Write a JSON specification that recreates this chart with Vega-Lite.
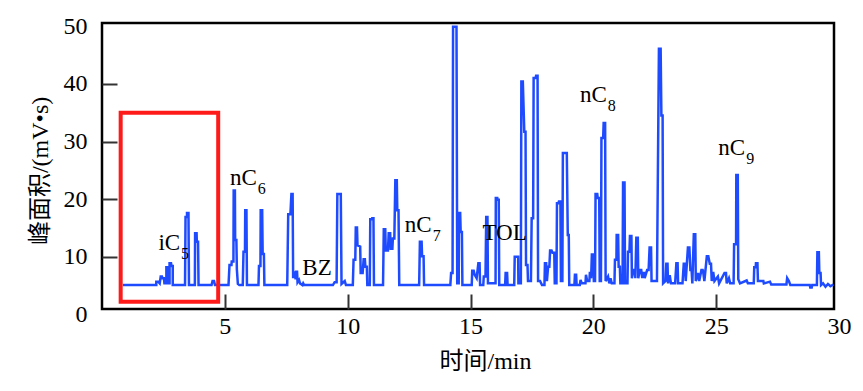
{
  "$schema": "https://vega.github.io/schema/vega-lite/v6.json",
  "autosize": {"type": "none"},
  "width": 732,
  "height": 286,
  "padding": {"left": 102, "top": 23, "right": 29, "bottom": 82},
  "background": "white",
  "config": {
    "view": {"stroke": "black", "strokeWidth": 2.5},
    "axis": {"grid": false, "domain": false}
  },
  "datasets": {
    "signal": [
      {"t":0.85,"v":5.1},{"t":2.21,"v":5.1},{"t":2.21,"v":5.7},{"t":2.29,"v":5.7},{"t":2.35,"v":5.4},{"t":2.39,"v":6.6},{"t":2.44,"v":6.6},{"t":2.46,"v":6.3},{"t":2.52,"v":6.3},{"t":2.54,"v":5.4},{"t":2.62,"v":5.4},{"t":2.62,"v":8.2},{"t":2.68,"v":8.2},{"t":2.68,"v":5.4},{"t":2.75,"v":5.4},{"t":2.75,"v":8.9},{"t":2.81,"v":8.9},{"t":2.83,"v":8.4},{"t":2.88,"v":8.4},{"t":2.88,"v":5.1},
      {"t":3.38,"v":5.1},{"t":3.40,"v":16.9},{"t":3.46,"v":16.9},{"t":3.46,"v":17.6},{"t":3.52,"v":17.6},{"t":3.54,"v":5.1},
      {"t":3.78,"v":5.1},{"t":3.79,"v":14.1},{"t":3.85,"v":14.1},{"t":3.86,"v":12.6},{"t":3.91,"v":12.6},{"t":3.93,"v":5.1},
      {"t":4.46,"v":5.1},{"t":4.50,"v":5.8},{"t":4.56,"v":5.8},{"t":4.60,"v":5.1},
      {"t":5.15,"v":5.1},{"t":5.19,"v":8.6},{"t":5.27,"v":8.6},{"t":5.28,"v":9.2},{"t":5.35,"v":9.2},{"t":5.36,"v":21.5},{"t":5.41,"v":21.5},{"t":5.42,"v":12.9},{"t":5.47,"v":12.9},{"t":5.49,"v":7.8},{"t":5.53,"v":5.3},{"t":5.59,"v":5.1},
      {"t":5.73,"v":5.1},{"t":5.76,"v":10.9},{"t":5.82,"v":10.9},{"t":5.83,"v":18.1},{"t":5.88,"v":18.1},{"t":5.90,"v":5.1},
      {"t":6.37,"v":5.1},{"t":6.39,"v":8.4},{"t":6.45,"v":8.4},{"t":6.46,"v":18.1},{"t":6.52,"v":18.1},{"t":6.54,"v":10.5},{"t":6.59,"v":10.5},{"t":6.61,"v":5.1},
      {"t":7.54,"v":5.1},{"t":7.58,"v":17.4},{"t":7.67,"v":17.4},{"t":7.71,"v":20.9},{"t":7.76,"v":20.9},{"t":7.78,"v":6.3},{"t":7.81,"v":7.3},{"t":7.86,"v":7.3},{"t":7.88,"v":6.1},{"t":7.90,"v":7.4},{"t":7.94,"v":7.4},{"t":7.96,"v":5.6},{"t":8.02,"v":6.0},{"t":8.06,"v":5.4},{"t":8.16,"v":5.1},{"t":8.19,"v":5.4},{"t":8.23,"v":5.1},
      {"t":9.40,"v":5.1},{"t":9.47,"v":5.6},{"t":9.55,"v":5.6},{"t":9.58,"v":20.9},{"t":9.72,"v":20.9},{"t":9.75,"v":5.3},{"t":9.88,"v":5.8},{"t":9.93,"v":5.1},
      {"t":10.21,"v":5.1},{"t":10.24,"v":9.5},{"t":10.31,"v":9.5},{"t":10.33,"v":15.1},{"t":10.38,"v":15.1},{"t":10.40,"v":12.0},{"t":10.51,"v":11.8},{"t":10.53,"v":7.2},{"t":10.61,"v":7.2},{"t":10.65,"v":9.6},{"t":10.70,"v":9.6},{"t":10.72,"v":8.3},{"t":10.78,"v":8.3},{"t":10.80,"v":5.1},
      {"t":10.90,"v":5.1},{"t":10.92,"v":16.5},{"t":10.99,"v":16.5},{"t":11.00,"v":16.7},{"t":11.05,"v":16.7},{"t":11.07,"v":5.1},
      {"t":11.44,"v":5.1},{"t":11.47,"v":14.8},{"t":11.53,"v":14.8},{"t":11.55,"v":11.1},{"t":11.64,"v":11.1},{"t":11.67,"v":14.1},{"t":11.73,"v":14.1},{"t":11.75,"v":11.4},{"t":11.82,"v":11.4},{"t":11.84,"v":13.2},{"t":11.90,"v":13.2},{"t":11.94,"v":23.3},{"t":12.00,"v":23.3},{"t":12.02,"v":18.1},{"t":12.07,"v":18.1},{"t":12.10,"v":5.1},
      {"t":12.91,"v":5.1},{"t":12.94,"v":12.6},{"t":13.01,"v":12.6},{"t":13.03,"v":10.1},{"t":13.09,"v":10.1},{"t":13.11,"v":5.1},
      {"t":14.18,"v":5.1},{"t":14.21,"v":7.2},{"t":14.27,"v":7.2},{"t":14.29,"v":49.9},{"t":14.43,"v":49.9},{"t":14.46,"v":5.4},{"t":14.52,"v":5.4},{"t":14.53,"v":17.6},{"t":14.58,"v":17.6},{"t":14.60,"v":14.3},{"t":14.65,"v":14.3},{"t":14.67,"v":5.1},
      {"t":15.05,"v":5.1},{"t":15.07,"v":7.6},{"t":15.13,"v":7.6},{"t":15.17,"v":6.9},{"t":15.25,"v":6.3},{"t":15.32,"v":8.9},{"t":15.37,"v":8.9},{"t":15.39,"v":5.1},
      {"t":15.52,"v":5.1},{"t":15.54,"v":6.6},{"t":15.61,"v":6.6},{"t":15.64,"v":16.9},{"t":15.69,"v":16.9},{"t":15.71,"v":5.4},{"t":15.87,"v":5.4},{"t":16.02,"v":5.4},{"t":16.03,"v":20.2},{"t":16.09,"v":20.2},{"t":16.10,"v":19.9},{"t":16.15,"v":19.9},{"t":16.17,"v":5.1},
      {"t":16.41,"v":5.1},{"t":16.43,"v":7.2},{"t":16.49,"v":7.2},{"t":16.51,"v":5.1},
      {"t":16.78,"v":5.1},{"t":16.80,"v":10.0},{"t":16.94,"v":10.0},
      {"t":16.95,"v":5.4},{"t":17.05,"v":5.4},{"t":17.07,"v":40.4},{"t":17.13,"v":40.4},{"t":17.19,"v":31.7},{"t":17.24,"v":31.7},{"t":17.26,"v":8.6},{"t":17.32,"v":8.6},{"t":17.34,"v":5.8},{"t":17.46,"v":5.8},{"t":17.49,"v":16.7},{"t":17.55,"v":16.7},{"t":17.57,"v":41.0},{"t":17.65,"v":41.0},{"t":17.67,"v":41.4},{"t":17.73,"v":41.4},{"t":17.75,"v":5.8},{"t":17.83,"v":5.8},{"t":17.91,"v":5.1},
      {"t":18.01,"v":5.1},{"t":18.03,"v":8.9},{"t":18.08,"v":8.9},{"t":18.11,"v":5.8},{"t":18.16,"v":8.3},{"t":18.21,"v":8.3},{"t":18.24,"v":11.1},{"t":18.30,"v":11.1},{"t":18.34,"v":10.7},{"t":18.41,"v":10.7},{"t":18.43,"v":5.4},{"t":18.50,"v":5.4},{"t":18.52,"v":19.3},{"t":18.58,"v":19.3},{"t":18.60,"v":19.6},{"t":18.66,"v":19.6},{"t":18.68,"v":5.8},{"t":18.74,"v":5.8},{"t":18.76,"v":28.0},{"t":18.92,"v":28.0},{"t":18.96,"v":13.8},{"t":19.00,"v":13.8},{"t":19.02,"v":5.1},
      {"t":19.23,"v":5.1},{"t":19.25,"v":6.9},{"t":19.30,"v":6.9},{"t":19.32,"v":5.1},{"t":19.45,"v":5.1},{"t":19.48,"v":6.0},{"t":19.53,"v":5.4},{"t":19.68,"v":5.4},{"t":19.70,"v":6.9},{"t":19.75,"v":5.8},{"t":19.84,"v":5.8},{"t":19.86,"v":7.4},{"t":19.91,"v":6.3},{"t":19.94,"v":10.4},{"t":20.00,"v":10.4},{"t":20.02,"v":5.8},{"t":20.07,"v":5.8},{"t":20.09,"v":20.9},{"t":20.16,"v":20.9},{"t":20.18,"v":20.2},{"t":20.24,"v":20.2},{"t":20.26,"v":5.8},{"t":20.31,"v":5.8},{"t":20.33,"v":30.6},{"t":20.40,"v":30.6},{"t":20.42,"v":33.2},{"t":20.48,"v":33.2},{"t":20.50,"v":5.8},{"t":20.60,"v":6.6},{"t":20.65,"v":5.4},{"t":20.70,"v":6.3},{"t":20.75,"v":5.4},
      {"t":20.86,"v":5.4},{"t":20.88,"v":9.5},{"t":20.94,"v":9.5},
      {"t":20.95,"v":13.8},{"t":21.01,"v":13.8},{"t":21.03,"v":8.3},{"t":21.08,"v":8.3},{"t":21.10,"v":5.4},{"t":21.19,"v":5.4},{"t":21.21,"v":22.9},{"t":21.27,"v":22.9},{"t":21.29,"v":5.4},
      {"t":21.39,"v":5.4},{"t":21.41,"v":10.9},{"t":21.47,"v":10.9},{"t":21.49,"v":13.6},{"t":21.55,"v":13.6},{"t":21.57,"v":6.3},{"t":21.63,"v":7.7},{"t":21.69,"v":7.7},{"t":21.71,"v":6.3},{"t":21.75,"v":13.3},{"t":21.81,"v":13.3},{"t":21.83,"v":6.3},{"t":21.89,"v":7.7},{"t":21.95,"v":7.7},{"t":21.99,"v":6.3},{"t":22.02,"v":7.2},{"t":22.07,"v":7.2},{"t":22.09,"v":6.3},{"t":22.19,"v":7.7},{"t":22.25,"v":7.7},{"t":22.29,"v":11.6},{"t":22.35,"v":11.6},{"t":22.37,"v":5.8},
      {"t":22.59,"v":5.8},{"t":22.67,"v":46.1},{"t":22.74,"v":46.1},{"t":22.77,"v":34.5},{"t":22.82,"v":34.5},{"t":22.84,"v":5.4},{"t":22.94,"v":5.8},
      {"t":22.97,"v":8.8},{"t":23.02,"v":8.8},{"t":23.04,"v":5.4},{"t":23.11,"v":6.8},{"t":23.16,"v":5.4},{"t":23.33,"v":5.4},{"t":23.38,"v":8.9},{"t":23.43,"v":8.9},{"t":23.45,"v":5.4},{"t":23.63,"v":5.4},{"t":23.68,"v":8.8},{"t":23.73,"v":8.8},{"t":23.76,"v":5.8},{"t":23.85,"v":11.6},{"t":23.91,"v":11.6},{"t":23.95,"v":7.7},{"t":24.00,"v":7.7},{"t":24.03,"v":5.4},{"t":24.09,"v":13.9},{"t":24.15,"v":13.9},{"t":24.17,"v":5.8},{"t":24.26,"v":7.2},{"t":24.31,"v":5.8},{"t":24.40,"v":7.7},{"t":24.45,"v":7.7},{"t":24.47,"v":7.4},{"t":24.52,"v":5.8},
      {"t":24.62,"v":10.1},{"t":24.68,"v":10.1},{"t":24.74,"v":8.8},{"t":24.79,"v":8.8},{"t":24.82,"v":5.8},{"t":24.88,"v":7.4},{"t":24.93,"v":5.8},
      {"t":25.07,"v":6.6},{"t":25.12,"v":5.4},{"t":25.34,"v":7.2},{"t":25.40,"v":7.2},{"t":25.43,"v":5.4},{"t":25.52,"v":6.3},{"t":25.57,"v":5.4},
      {"t":25.71,"v":5.4},{"t":25.73,"v":12.2},{"t":25.81,"v":12.2},{"t":25.82,"v":24.2},{"t":25.88,"v":24.2},{"t":25.90,"v":6.1},{"t":25.97,"v":5.4},{"t":26.24,"v":5.9},{"t":26.29,"v":5.4},{"t":26.53,"v":5.4},{"t":26.55,"v":8.2},{"t":26.61,"v":8.2},{"t":26.62,"v":8.9},{"t":26.68,"v":8.9},{"t":26.70,"v":5.8},{"t":26.92,"v":5.8},
      {"t":26.94,"v":5.4},{"t":27.19,"v":5.7},{"t":27.24,"v":5.2},{"t":27.86,"v":5.2},{"t":27.89,"v":6.3},{"t":27.96,"v":5.8},{"t":28.02,"v":5.1},
      {"t":28.81,"v":5.1},{"t":28.83,"v":4.7},{"t":28.89,"v":4.7},{"t":28.91,"v":5.1},
      {"t":29.10,"v":5.1},{"t":29.12,"v":10.8},{"t":29.18,"v":10.8},{"t":29.20,"v":7.2},{"t":29.25,"v":7.2},{"t":29.27,"v":5.1},{"t":29.35,"v":5.4},{"t":29.45,"v":4.8},{"t":29.55,"v":5.3},{"t":29.65,"v":4.9},{"t":29.77,"v":5.2}
    ],
    "box": [{"t": 0.76, "t2": 4.73, "v": 2.22, "v2": 35.0}],
    "labels": [
      {"main": "iC", "sub": "5", "t": 3.18, "v": 11.18},
      {"main": "nC", "sub": "6", "t": 6.30, "v": 22.46},
      {"main": "BZ", "sub": "", "t": 9.35, "v": 6.85},
      {"main": "nC", "sub": "7", "t": 13.42, "v": 14.36},
      {"main": "TOL", "sub": "", "t": 17.29, "v": 12.92},
      {"main": "nC", "sub": "8", "t": 20.55, "v": 36.9},
      {"main": "nC", "sub": "9", "t": 26.18, "v": 27.66}
    ]
  },
  "layer": [
    {
      "data": {"name": "signal"},
      "mark": {"type": "line", "color": "#1f4bff", "strokeWidth": 2.5, "clip": true},
      "encoding": {
        "x": {"field": "t", "type": "quantitative", "scale": {"domain": [0, 30], "range": [0, 737], "nice": false, "zero": false},
          "axis": {"values": [5, 10, 15, 20, 25, 30], "tickSize": -15, "tickWidth": 2, "tickColor": "#333333", "tickOpacity": {"condition": {"test": "datum.value === 30", "value": 0}, "value": 1}, "labelFont": "'Liberation Serif', 'DejaVu Serif', serif", "labelFontSize": 24, "labelColor": "black", "labelPadding": 20, "labelFlush": false, "labelOverlap": false, "title": "时间/min", "titleFont": "'Liberation Serif', 'Noto Sans CJK SC', serif", "titleFontSize": 24, "titleFontWeight": "normal", "titleColor": "black", "titleX": 383, "titleY": 59, "titleBaseline": "alphabetic", "titleAlign": "center"}},
        "y": {"field": "v", "type": "quantitative", "scale": {"domain": [0, 50], "range": [291.5, 3.2], "nice": false, "zero": false},
          "axis": {"values": [0, 10, 20, 30, 40, 50], "tickSize": -15, "tickWidth": 2, "tickColor": "#333333", "tickOpacity": {"condition": {"test": "datum.value === 0 || datum.value === 50", "value": 0}, "value": 1}, "labelFont": "'Liberation Serif', 'DejaVu Serif', serif", "labelFontSize": 24, "labelColor": "black", "labelPadding": 30, "labelFlush": false, "labelOverlap": false, "title": "峰面积/(mV•s)", "titleFont": "'Liberation Serif', 'Noto Sans CJK SC', serif", "titleFontSize": 24, "titleFontWeight": "normal", "titleColor": "black", "titleX": -62, "titleBaseline": "middle"}},
        "order": {"value": null}
      }
    },
    {
      "data": {"name": "box"},
      "mark": {"type": "rect", "filled": false, "stroke": "#ff1a1a", "strokeWidth": 4},
      "encoding": {
        "x": {"field": "t", "type": "quantitative"},
        "x2": {"field": "t2"},
        "y": {"field": "v", "type": "quantitative"},
        "y2": {"field": "v2"}
      }
    },
    {
      "data": {"name": "labels"},
      "mark": {"type": "text", "align": "right", "baseline": "alphabetic", "font": "'Liberation Serif', 'DejaVu Serif', serif", "fontSize": 23, "color": "black"},
      "encoding": {
        "x": {"field": "t", "type": "quantitative"},
        "y": {"field": "v", "type": "quantitative"},
        "text": {"field": "main"}
      }
    },
    {
      "data": {"name": "labels"},
      "mark": {"type": "text", "align": "left", "baseline": "alphabetic", "font": "'Liberation Serif', 'DejaVu Serif', serif", "fontSize": 16, "color": "black", "dx": 1, "dy": 9},
      "encoding": {
        "x": {"field": "t", "type": "quantitative"},
        "y": {"field": "v", "type": "quantitative"},
        "text": {"field": "sub"}
      }
    }
  ]
}
